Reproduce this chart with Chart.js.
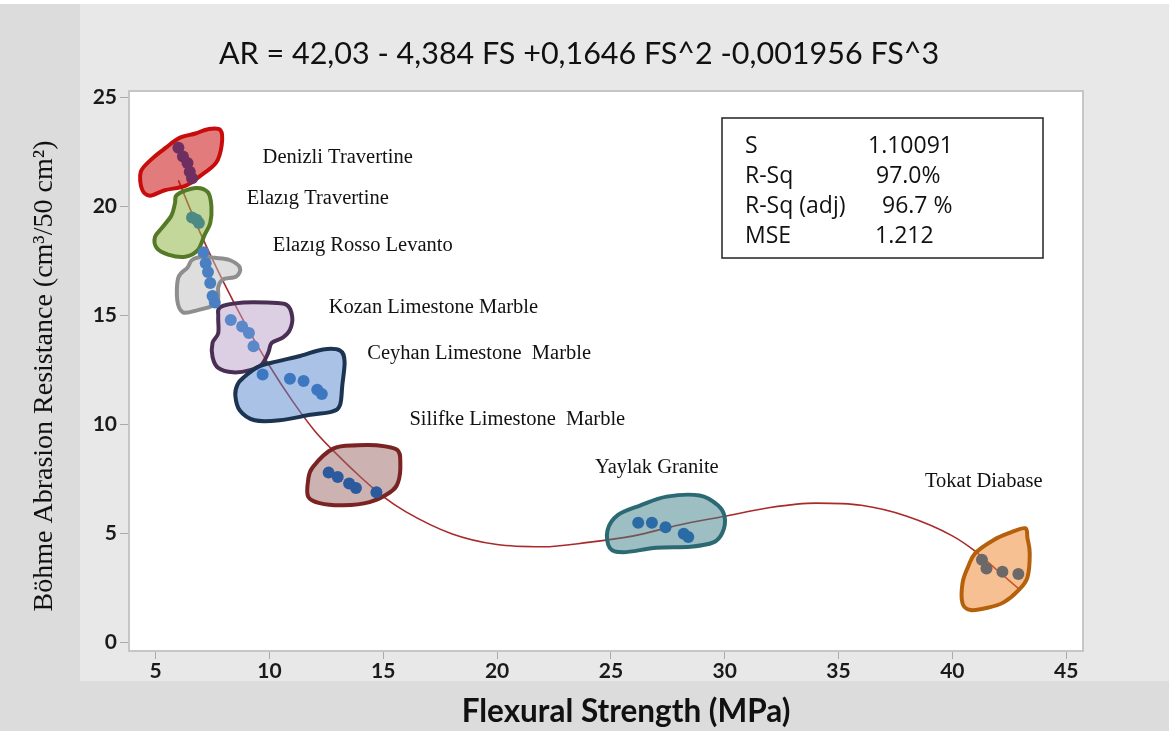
<!DOCTYPE html>
<html>
<head>
<meta charset="utf-8">
<script src="https://cdn.jsdelivr.net/npm/chart.js@4.4.1/dist/chart.umd.min.js"></script>
<style>
  body { margin: 0; background: #fff; }
</style>
</head>
<body>
<canvas id="chart" width="1172" height="731"></canvas>
<script>
// rock groups and their measured points
const groups = ['Denizli Travertine', 'Elazıg Travertine', 'Elazıg Rosso Levanto', 'Kozan Limestone Marble',
    'Ceyhan Limestone  Marble', 'Silifke Limestone  Marble', 'Yaylak Granite', 'Tokat Diabase']
const fsValues = [
    [6.0, 6.2, 6.4, 6.5, 6.6],
    [6.6, 6.8, 6.9],
    [7.1, 7.2, 7.3, 7.4, 7.5, 7.6],
    [8.3, 8.8, 9.1, 9.3],
    [9.7, 10.9, 11.5, 12.1, 12.3],
    [12.6, 13.0, 13.5, 13.8, 14.7],
    [26.2, 26.8, 27.4, 28.2, 28.4],
    [41.3, 41.5, 42.2, 42.9]
]
const arValues = [
    [22.7, 22.3, 22.0, 21.6, 21.3],
    [19.5, 19.4, 19.25],
    [17.9, 17.4, 17.0, 16.5, 15.9, 15.6],
    [14.8, 14.5, 14.2, 13.6],
    [12.3, 12.1, 12.0, 11.6, 11.4],
    [7.8, 7.6, 7.3, 7.1, 6.9],
    [5.5, 5.5, 5.3, 5.0, 4.85],
    [3.8, 3.4, 3.25, 3.15]
]

// fitted curve
const fitX = [6, 7, 8, 9, 10, 11, 12, 13, 14, 15, 16, 18, 20, 22, 24, 26, 28, 30, 32, 34, 36, 38, 40, 41, 42, 43]
const fitY = [21.2, 18.7, 16.5, 14.5, 12.7, 11.1, 9.7, 8.6, 7.6, 6.7, 6.0, 5.0, 4.5, 4.4, 4.6, 4.9, 5.4, 5.8, 6.2, 6.4, 6.3, 5.8, 4.9, 4.2, 3.3, 2.4]

const xTicks = [5, 10, 15, 20, 25, 30, 35, 40, 45]
const yTicks = [0, 5, 10, 15, 20, 25]

const statNames = ['S', 'R-Sq', 'R-Sq (adj)', 'MSE']
const statValues = ['1.10091', '97.0%', '96.7 %', '1.212']

const titleText = 'AR = 42,03 - 4,384 FS +0,1646 FS^2 -0,001956 FS^3'

// look
const pointColors = ['#6e2f60', '#4e8a84', '#4a80c2', '#5b88c8', '#3e77c1', '#2b5b9e', '#2a6aa5', '#6c6868']
const blobStroke = ['#c80c0c', '#557a27', '#8e8e8e', '#4a2f55', '#1c3452', '#7b2222', '#2b6a73', '#b5600a']
const blobFill = ['rgba(202,15,15,0.55)', 'rgba(148,182,73,0.55)', 'rgba(189,189,189,0.5)', 'rgba(185,159,199,0.5)',
    'rgba(83,133,205,0.5)', 'rgba(155,101,101,0.5)', 'rgba(60,125,135,0.5)', 'rgba(240,130,40,0.5)']

// hand drawn outlines round each group, in axis units
const outlines = [
    [[4.4, 20.8], [4.35, 21.6], [4.85, 22.2], [5.45, 22.7], [6.05, 23.15], [6.75, 23.35], [7.3, 23.55], [7.85, 23.5],
     [7.9, 22.8], [7.65, 22.0], [6.95, 21.4], [6.3, 20.95], [5.4, 20.75], [4.75, 20.5]],
    [[5.95, 20.55], [6.75, 20.85], [7.3, 20.65], [7.45, 20.0], [7.4, 19.25], [7.15, 18.7], [6.85, 18.0], [6.3, 17.7],
     [5.55, 17.8], [5.05, 18.1], [4.97, 18.6], [5.3, 19.05], [5.7, 19.6], [5.85, 20.15]],
    [[6.6, 17.55], [7.05, 17.7], [7.6, 17.65], [8.25, 17.55], [8.7, 17.2], [8.55, 16.8], [7.95, 16.65], [7.75, 16.3],
     [7.75, 15.8], [7.6, 15.5], [6.85, 15.25], [6.2, 15.15], [5.95, 15.7], [6.0, 16.75], [6.4, 17.2]],
    [[7.85, 15.4], [8.85, 15.6], [9.9, 15.6], [10.75, 15.5], [11.0, 14.95], [10.9, 14.35], [10.6, 14.0], [10.1, 13.75],
     [9.95, 13.3], [9.65, 12.75], [9.15, 12.5], [8.4, 12.4], [7.75, 12.6], [7.5, 13.1], [7.5, 13.75], [7.75, 14.2], [7.75, 14.95]],
    [[8.85, 12.15], [9.5, 12.65], [10.35, 12.9], [11.35, 13.15], [12.35, 13.45], [13.1, 13.4], [13.3, 12.9], [13.2, 11.8],
     [13.1, 10.9], [12.75, 10.6], [11.8, 10.45], [10.45, 10.2], [9.35, 10.2], [8.7, 10.65], [8.5, 11.35], [8.6, 11.85]],
    [[11.9, 8.05], [12.8, 8.9], [13.85, 9.05], [14.7, 9.05], [15.6, 8.85], [15.75, 8.25], [15.65, 7.35], [15.3, 6.9],
     [14.4, 6.45], [13.25, 6.3], [12.2, 6.4], [11.7, 6.7], [11.7, 7.45]],
    [[24.85, 5.15], [25.3, 5.85], [26.3, 6.3], [27.45, 6.7], [28.9, 6.75], [29.7, 6.3], [30.0, 5.75], [29.9, 5.05],
     [29.5, 4.6], [28.5, 4.4], [27.0, 4.35], [25.55, 4.15], [24.95, 4.35]],
    [[41.0, 4.1], [41.8, 4.7], [42.55, 5.05], [43.2, 5.25], [43.3, 4.8], [43.4, 4.1], [43.3, 3.0], [42.9, 2.4],
     [42.25, 1.85], [41.55, 1.6], [40.8, 1.5], [40.45, 1.8], [40.45, 2.75], [40.7, 3.5]]
]
// where each group name sits (left edge, middle of text), axis units
const labelAt = [[9.7, 22.25], [9.0, 20.35], [10.15, 18.2], [12.6, 15.35], [14.3, 13.25], [16.15, 10.25], [24.3, 8.05], [38.8, 7.4]]

function smoothClosed(ctx, pts) {
    const n = pts.length
    ctx.beginPath()
    ctx.moveTo(pts[0][0], pts[0][1])
    for (let i = 0; i < n; i++) {
        const p0 = pts[(i - 1 + n) % n], p1 = pts[i], p2 = pts[(i + 1) % n], p3 = pts[(i + 2) % n]
        ctx.bezierCurveTo(p1[0] + (p2[0] - p0[0]) / 6, p1[1] + (p2[1] - p0[1]) / 6,
            p2[0] - (p3[0] - p1[0]) / 6, p2[1] - (p3[1] - p1[1]) / 6, p2[0], p2[1])
    }
    ctx.closePath()
}

const backdrop = {
    id: 'backdrop',
    beforeDraw(chart) {
        const ctx = chart.ctx, a = chart.chartArea
        ctx.save()
        ctx.fillStyle = '#ffffff'
        ctx.fillRect(0, 0, chart.width, chart.height)
        ctx.fillStyle = '#dcdcdc'
        ctx.fillRect(0, 4, chart.width - 3, chart.height - 4)
        ctx.fillStyle = '#e8e8e8'
        ctx.fillRect(80, 4, chart.width - 83, 677)
        ctx.fillStyle = '#ffffff'
        ctx.fillRect(a.left, a.top, a.right - a.left, a.bottom - a.top)
        ctx.restore()
    },
    afterDatasetDraw(chart, args) {
        // blobs go over the fit line but under the points
        if (args.index !== groups.length) return
        const ctx = chart.ctx, sx = chart.scales.x, sy = chart.scales.y
        ctx.save()
        outlines.forEach((o, i) => {
            const pts = o.map(p => [sx.getPixelForValue(p[0]), sy.getPixelForValue(p[1])])
            smoothClosed(ctx, pts)
            ctx.fillStyle = blobFill[i]
            ctx.fill()
            ctx.lineWidth = 4
            ctx.lineJoin = 'round'
            ctx.strokeStyle = blobStroke[i]
            ctx.stroke()
        })
        ctx.restore()
    },
    afterDraw(chart) {
        const ctx = chart.ctx, a = chart.chartArea, sx = chart.scales.x, sy = chart.scales.y
        ctx.save()
        // frame
        ctx.strokeStyle = '#c6c6c6'
        ctx.lineWidth = 2
        ctx.strokeRect(a.left, a.top, a.right - a.left, a.bottom - a.top)

        // title
        ctx.fillStyle = '#111'
        ctx.textBaseline = 'middle'
        ctx.textAlign = 'center'
        ctx.font = '30.5px Lato'
        ctx.fillText(titleText, 579, 54)

        // group names
        ctx.font = '20.5px "Liberation Serif"'
        ctx.textAlign = 'left'
        groups.forEach((g, i) => {
            ctx.fillText(g, sx.getPixelForValue(labelAt[i][0]), sy.getPixelForValue(labelAt[i][1]))
        })

        // stats box
        ctx.fillStyle = '#fff'
        ctx.fillRect(722, 118, 321, 140)
        ctx.strokeStyle = '#222'
        ctx.lineWidth = 1.5
        ctx.strokeRect(722, 118, 321, 140)
        ctx.fillStyle = '#111'
        ctx.font = '23px "Open Sans"'
        const valX = [868, 876, 882, 875]
        statNames.forEach((s, i) => {
            const y = 146 + i * 30
            ctx.fillText(s, 745, y)
            ctx.fillText(statValues[i], valX[i], y)
        })

        // axis titles
        ctx.textAlign = 'center'
        ctx.font = 'bold 31.5px Lato'
        ctx.fillText('Flexural Strength (MPa)', 626, 712)
        ctx.translate(45, 376)
        ctx.rotate(-Math.PI / 2)
        ctx.font = '28px "Liberation Serif"'
        ctx.fillText('Böhme Abrasion Resistance (cm³/50 cm²)', 0, 0)
        ctx.restore()
    }
}

const datasets = groups.map((g, i) => ({
    label: g,
    data: fsValues[i].map((x, j) => ({x: x, y: arValues[i][j]})),
    backgroundColor: pointColors[i],
    borderWidth: 0,
    pointRadius: 6,
    showLine: false
}))
datasets.push({
    label: 'fit',
    data: fitX.map((x, j) => ({x: x, y: fitY[j]})),
    showLine: true,
    borderColor: '#a82a2a',
    borderWidth: 1.6,
    pointRadius: 0,
    cubicInterpolationMode: 'monotone'
})

const tickFont = {family: 'Lato', size: 21, weight: 'bold'}

new Chart(document.getElementById('chart').getContext('2d'), {
    type: 'scatter',
    data: {datasets: datasets},
    options: {
        responsive: false,
        animation: false,
        layout: {padding: {left: 0, right: 89, top: 91, bottom: 0}},
        plugins: {
            legend: {display: false},
            tooltip: {enabled: false},
            title: {display: false}
        },
        scales: {
            x: {
                type: 'linear',
                min: 3.83,
                max: 45.74,
                afterBuildTicks: s => { s.ticks = xTicks.map(v => ({value: v})) },
                afterFit: s => { s.height = 80 },
                grid: {drawOnChartArea: false, drawTicks: true, tickLength: 8, color: '#aaaaaa'},
                border: {display: false},
                ticks: {font: tickFont, color: '#1a1a1a', padding: 0}
            },
            y: {
                type: 'linear',
                min: -0.38,
                max: 25.3,
                afterBuildTicks: s => { s.ticks = yTicks.map(v => ({value: v})) },
                afterFit: s => { s.width = 129 },
                grid: {drawOnChartArea: false, drawTicks: true, tickLength: 9, color: '#aaaaaa'},
                border: {display: false},
                ticks: {font: tickFont, color: '#1a1a1a', padding: 3}
            }
        }
    },
    plugins: [backdrop]
})
</script>
</body>
</html>
